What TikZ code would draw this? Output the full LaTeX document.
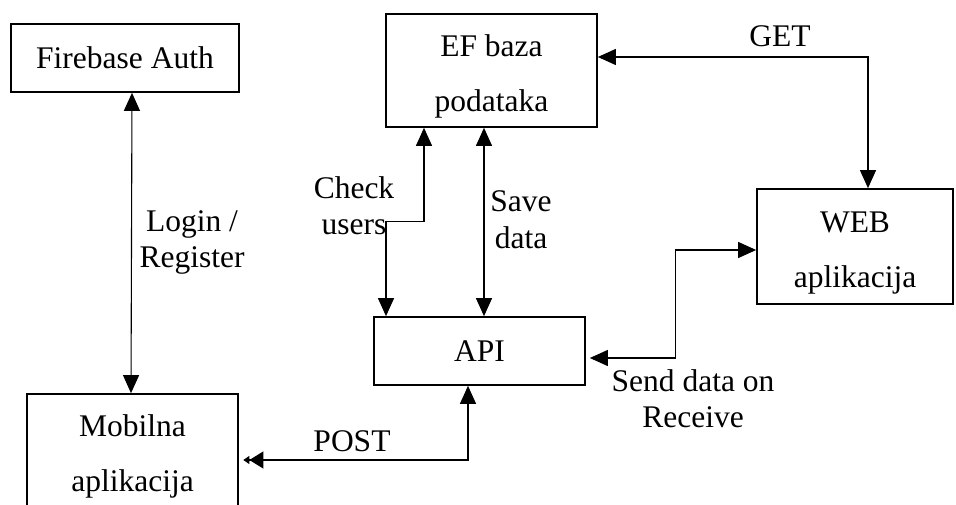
\documentclass[tikz,border=0pt]{standalone}
\usepackage{fontspec}
\setmainfont{Liberation Serif}
\usetikzlibrary{calc,arrows.meta}
\begin{document}
\begin{tikzpicture}[x=1pt,y=-1pt,
  box/.style={draw,line width=1.7pt,rectangle,inner sep=0pt,align=center,
    font=\fontsize{31.5}{55}\selectfont},
  lbl/.style={align=center,inner sep=0pt,font=\fontsize{31.5}{36}\selectfont},
  conn/.style={line width=1.1pt,{Triangle[length=18pt,width=16pt]}-{Triangle[length=18pt,width=16pt]}}
]
\useasboundingbox (0,0) rectangle (956,505);
\clip (0,0) rectangle (956,505);
\fill[white] (0,0) rectangle (956,505);
% boxes
\node[box,minimum width=228pt,minimum height=68pt] (fb) at (125,58) {Firebase Auth};
\node[box,minimum width=211pt,minimum height=113pt] (ef) at (491.5,70.5) {\rule{0pt}{33pt}EF baza\\podataka};
\node[box,minimum width=196pt,minimum height=115pt] (web) at (855,246.5) {\rule{0pt}{33pt}WEB\\aplikacija};
\node[box,minimum width=211pt,minimum height=68pt] (api) at (479.5,351) {API};
\node[box,minimum width=211pt,minimum height=113pt] (mob) at (132.5,450.5) {\rule{0pt}{33pt}Mobilna\\aplikacija};
% connectors
\draw[conn] ($(fb.south)+(7,0)$) -- ($(mob.north)+(-1.5,0)$);
\draw[conn] ($(api.north)+(-93.5,0)$) -- ++(0,-95) -| ($(ef.south)+(-67.5,0)$);
\draw[conn] ($(ef.south)+(-7.5,0)$) coordinate (sd) -- (sd |- api.north);
\draw[conn] ($(ef.east)+(0,-13.5)$) -| ($(web.north)+(13,0)$);
\draw[conn] ($(api.east)+(4,7)$) -- ++(86,0) |- ($(web.west)+(0,3.5)$);
\draw[line width=1.1pt,{Triangle[length=6pt,width=8pt,sep=1.5pt]Triangle[length=14pt,width=17pt]}-{Triangle[length=18pt,width=16pt]}]
  ($(mob.east)+(3,9.5)$) -| ($(api.south)+(-11.5,0)$);
% labels
\node[lbl,anchor=base] (llogin) at (192,268) {Login /\\Register};
\node[lbl,anchor=base] (lcheck) at (354,235) {Check\\users};
\node[lbl,anchor=base] (lsave) at (521,248) {Save\\data};
\node[lbl,anchor=base] (lget) at (780,47) {GET};
\node[lbl,anchor=base] (lsend) at (693,427) {Send data on\\Receive};
\node[lbl,anchor=base] (lpost) at (352,451) {POST};
\end{tikzpicture}
\end{document}
